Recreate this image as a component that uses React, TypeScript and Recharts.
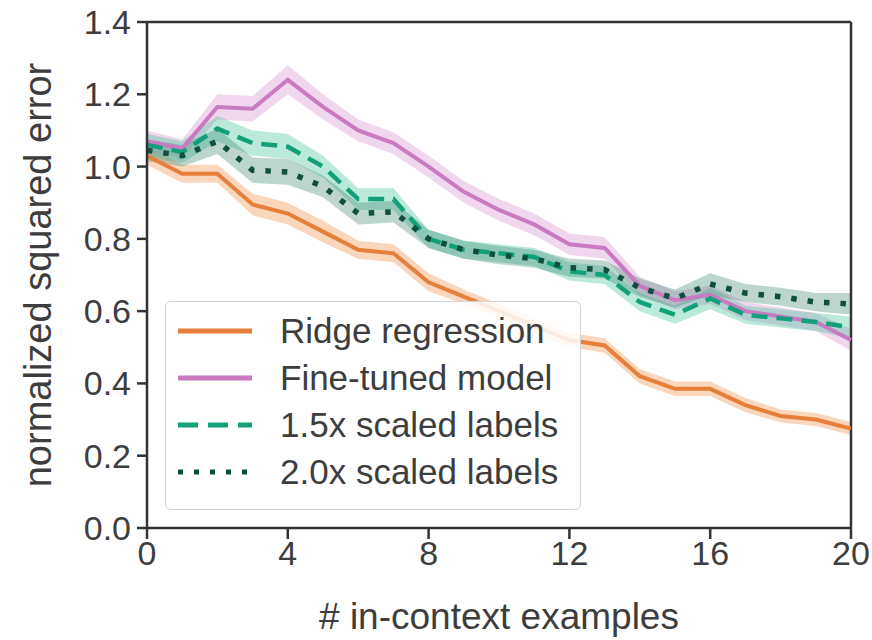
import React from "react";
import {
  ComposedChart,
  Line,
  Area,
  XAxis,
  YAxis,
  Legend,
  ReferenceLine,
} from "recharts";

const examples = [0, 1, 2, 3, 4, 5, 6, 7, 8, 9, 10, 11, 12, 13, 14, 15, 16, 17, 18, 19, 20];

const ridge = [1.03, 0.98, 0.98, 0.895, 0.87, 0.82, 0.77, 0.76, 0.68, 0.64, 0.6, 0.56, 0.52, 0.505, 0.42, 0.385, 0.385, 0.34, 0.31, 0.3, 0.275];
const ridgeSpread = [0.025, 0.025, 0.025, 0.03, 0.03, 0.03, 0.025, 0.025, 0.025, 0.02, 0.02, 0.02, 0.02, 0.02, 0.02, 0.02, 0.02, 0.02, 0.018, 0.018, 0.018];

const fineTuned = [1.07, 1.05, 1.165, 1.16, 1.24, 1.165, 1.1, 1.065, 1.0, 0.93, 0.88, 0.84, 0.785, 0.775, 0.67, 0.63, 0.645, 0.6, 0.585, 0.57, 0.52];
const fineTunedSpread = [0.03, 0.025, 0.035, 0.035, 0.04, 0.035, 0.03, 0.03, 0.03, 0.03, 0.03, 0.03, 0.03, 0.03, 0.025, 0.025, 0.025, 0.025, 0.025, 0.025, 0.03];

const scaled15 = [1.06, 1.04, 1.105, 1.065, 1.055, 1.0, 0.91, 0.91, 0.8, 0.77, 0.76, 0.75, 0.71, 0.7, 0.625, 0.59, 0.635, 0.59, 0.58, 0.57, 0.555];
const scaled15Spread = [0.03, 0.03, 0.035, 0.035, 0.035, 0.03, 0.03, 0.03, 0.025, 0.025, 0.025, 0.025, 0.025, 0.025, 0.025, 0.025, 0.03, 0.025, 0.025, 0.025, 0.03];

const scaled20 = [1.045, 1.03, 1.07, 0.99, 0.985, 0.945, 0.87, 0.875, 0.8, 0.77, 0.755, 0.745, 0.72, 0.715, 0.665, 0.635, 0.675, 0.65, 0.64, 0.625, 0.62];
const scaled20Spread = [0.03, 0.03, 0.035, 0.035, 0.035, 0.03, 0.03, 0.03, 0.025, 0.025, 0.025, 0.025, 0.025, 0.025, 0.025, 0.025, 0.03, 0.025, 0.025, 0.025, 0.03];

const xTicks = [0, 4, 8, 12, 16, 20];
const yTicks = [0, 0.2, 0.4, 0.6, 0.8, 1.0, 1.2, 1.4];

const seriesNames = ["Ridge regression", "Fine-tuned model", "1.5x scaled labels", "2.0x scaled labels"];

const ORANGE = "#e57f3a";
const PURPLE = "#c97ac1";
const GREEN = "#12a07a";
const DARK_GREEN = "#0f4f3d";
const AXIS = "#333";
const TEXT = "#3d3d3d";
const FONT = "'Liberation Sans', Arial, sans-serif";

const data = examples.map((x, i) => ({
  x,
  ridge: ridge[i],
  ridgeBand: [ridge[i] - ridgeSpread[i], ridge[i] + ridgeSpread[i]],
  fine: fineTuned[i],
  fineBand: [fineTuned[i] - fineTunedSpread[i], fineTuned[i] + fineTunedSpread[i]],
  s15: scaled15[i],
  s15Band: [scaled15[i] - scaled15Spread[i], scaled15[i] + scaled15Spread[i]],
  s20: scaled20[i],
  s20Band: [scaled20[i] - scaled20Spread[i], scaled20[i] + scaled20Spread[i]],
}));

const legendRows = [
  { name: seriesNames[0], color: ORANGE, dash: undefined },
  { name: seriesNames[1], color: PURPLE, dash: undefined },
  { name: seriesNames[2], color: GREEN, dash: "20 10" },
  { name: seriesNames[3], color: DARK_GREEN, dash: "5 11" },
];

function LegendBox() {
  return (
    <div
      style={{
        border: "1.5px solid #d4d4d4",
        borderRadius: 6,
        background: "rgba(255,255,255,0.85)",
        padding: "5px 22px 14px 10px",
        fontFamily: FONT,
        fontSize: 35,
        color: TEXT,
      }}
    >
      {legendRows.map((r) => (
        <div key={r.name} style={{ display: "flex", alignItems: "center", height: 47 }}>
          <svg width={78} height={20} style={{ marginRight: 26 }}>
            <line x1={2} y1={10} x2={76} y2={10} stroke={r.color} strokeWidth={5} strokeDasharray={r.dash} />
          </svg>
          <span>{r.name}</span>
        </div>
      ))}
    </div>
  );
}

export default function App() {
  return (
    <div style={{ position: "absolute", left: 0, top: 0, background: "#fff" }}>
      <ComposedChart width={872} height={640} data={data} margin={{ top: 22, right: 21, bottom: 0, left: 0 }}>
        <XAxis
          dataKey="x"
          type="number"
          domain={[0, 20]}
          ticks={xTicks}
          height={112}
          stroke={AXIS}
          strokeWidth={2.5}
          tickSize={11}
          tick={{ fill: TEXT, fontSize: 34, fontFamily: FONT, dy: 0 }}
          label={{
            content: ({ viewBox }: any) => (
              <text
                x={viewBox.x + viewBox.width / 2}
                y={viewBox.y + 101}
                textAnchor="middle"
                fill={TEXT}
                fontSize={37}
                fontFamily={FONT}
              >
                # in-context examples
              </text>
            ),
          }}
        />
        <YAxis
          type="number"
          domain={[0, 1.4]}
          ticks={yTicks}
          width={147}
          stroke={AXIS}
          strokeWidth={2.5}
          tickSize={10}
          tickFormatter={(v: number) => v.toFixed(1)}
          tick={{ fill: TEXT, fontSize: 34, fontFamily: FONT, dx: -4 }}
          label={{
            content: ({ viewBox }: any) => {
              const cx = viewBox.x + 38;
              const cy = viewBox.y + viewBox.height / 2;
              return (
                <text
                  x={cx}
                  y={cy}
                  transform={`rotate(-90, ${cx}, ${cy})`}
                  textAnchor="middle"
                  dominantBaseline="central"
                  fill={TEXT}
                  fontSize={38}
                  fontFamily={FONT}
                >
                  normalized squared error
                </text>
              );
            },
          }}
        />
        <ReferenceLine y={1.4} stroke={AXIS} strokeWidth={2.5} />
        <ReferenceLine x={20} stroke={AXIS} strokeWidth={2.5} />

        <Area dataKey="ridgeBand" stroke="none" fill="#f4a46c" fillOpacity={0.45} legendType="none" isAnimationActive={false} />
        <Area dataKey="fineBand" stroke="none" fill="#d99bd3" fillOpacity={0.4} legendType="none" isAnimationActive={false} />
        <Area dataKey="s15Band" stroke="none" fill="#3cbf95" fillOpacity={0.35} legendType="none" isAnimationActive={false} />
        <Area dataKey="s20Band" stroke="none" fill="#3f8a72" fillOpacity={0.35} legendType="none" isAnimationActive={false} />

        <Line dataKey="ridge" name={seriesNames[0]} stroke={ORANGE} strokeWidth={4} dot={false} isAnimationActive={false} />
        <Line dataKey="fine" name={seriesNames[1]} stroke={PURPLE} strokeWidth={4} dot={false} isAnimationActive={false} />
        <Line dataKey="s15" name={seriesNames[2]} stroke={GREEN} strokeWidth={4.5} strokeDasharray="16 9" dot={false} isAnimationActive={false} />
        <Line dataKey="s20" name={seriesNames[3]} stroke={DARK_GREEN} strokeWidth={5.5} strokeDasharray="5.5 11" dot={false} isAnimationActive={false} />

        <Legend
          layout="vertical"
          align="center"
          verticalAlign="middle"
          content={() => <LegendBox />}
          wrapperStyle={{ left: 165, top: 301, width: "auto" }}
        />
      </ComposedChart>
    </div>
  );
}
